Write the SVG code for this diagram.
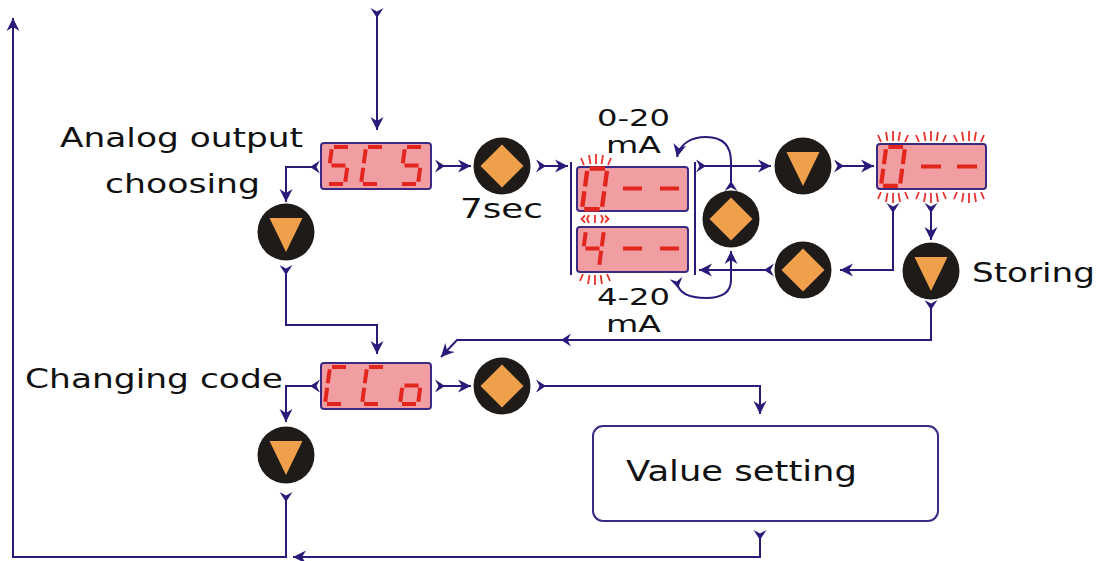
<svg xmlns="http://www.w3.org/2000/svg" xmlns:xlink="http://www.w3.org/1999/xlink" width="1099" height="561" viewBox="0 0 1099 561">
<style>
.txt{font-family:"DejaVu Sans","Liberation Sans",sans-serif;font-size:27px;fill:#111;}
.sm{font-size:23px;}
.disp{fill:#f09ea1;stroke:#3b2a84;stroke-width:2;}
.seg{fill:none;stroke:#e2261d;stroke-width:4;stroke-linecap:butt;}
.ray{fill:none;stroke:#e8322a;stroke-width:1.8;}
.con{fill:none;stroke:#2c1a7a;stroke-width:2;}
.bar{fill:none;stroke:#2c1a7a;stroke-width:2;}
.box{fill:#fff;stroke:#3b2a84;stroke-width:2;}
</style>
<defs>
<marker id="head" markerUnits="userSpaceOnUse" markerWidth="16" markerHeight="16" viewBox="-14 -8 16 16" refX="0" refY="0" orient="auto">
<path d="M0,0 L-13,-6.5 L-9,0 L-13,6.5 Z" fill="#2c1a7a"/>
</marker>
<marker id="tail" markerUnits="userSpaceOnUse" markerWidth="16" markerHeight="16" viewBox="-8 -8 16 16" refX="0" refY="0" orient="auto">
<path d="M-5,-6.5 L5,0 L-5,6.5 L-1.5,0 Z" fill="#2c1a7a"/>
</marker>
<g id="dS"><path d="M7,0 H21 M4.7,2.2 L2.8,16.3 M4.5,18.5 H18.5 M20.2,20.7 L18.3,34.8 M2,37 H16"/></g>
<g id="dC"><path d="M7,0 H21 M4.7,2.2 L2.8,16.3 M2.2,20.7 L0.3,34.8 M2,37 H16"/></g>
<g id="d0"><path d="M7,0 H21 M22.7,2.2 L20.8,16.3 M20.2,20.7 L18.3,34.8 M2,37 H16 M2.2,20.7 L0.3,34.8 M4.7,2.2 L2.8,16.3"/></g>
<g id="d4"><path d="M4.7,2.2 L2.8,16.3 M4.5,18.5 H18.5 M22.7,2.2 L20.8,16.3 M20.2,20.7 L18.3,34.8"/></g>
<g id="do"><path d="M4.5,18.5 H18.5 M20.2,20.7 L18.3,34.8 M2,37 H16 M2.2,20.7 L0.3,34.8"/></g>
<g id="raysUp"><path d="M-12,0 L-15,-7 M-5.5,-1 L-7,-10 M0,-1 L0,-11 M5.5,-1 L7,-10 M12,0 L15,-7"/></g>
<g id="btnDiamond"><circle r="28.5" fill="#1f1b19"/><path d="M0,-21.5 L21.5,0 L0,21.5 L-21.5,0 Z" fill="#f0a04a"/></g>
<g id="btnDown"><circle r="28.5" fill="#1f1b19"/><path d="M-16.5,-14 L16.5,-14 L0,20 Z" fill="#f0a04a"/></g>
</defs>
<rect width="1099" height="561" fill="#fff"/>

<g id="connectors">
<path class="con" d="M377,13 V130" marker-start="url(#tail)" marker-end="url(#head)"/>
<path class="con" d="M286,497 V557 H13 V18" marker-start="url(#tail)" marker-end="url(#head)"/>
<path class="con" d="M315,167 H286 V202" marker-start="url(#tail)" marker-end="url(#head)"/>
<path class="con" d="M286,270 V325 H377 V354" marker-start="url(#tail)" marker-end="url(#head)"/>
<path class="con" d="M440,166 H471" marker-start="url(#tail)" marker-end="url(#head)"/>
<path class="con" d="M541,166 H568" marker-start="url(#tail)" marker-end="url(#head)"/>
<path class="con" d="M701,166 H771" marker-start="url(#tail)" marker-end="url(#head)"/>
<path class="con" d="M839,166 H874" marker-start="url(#tail)" marker-end="url(#head)"/>
<path class="con" d="M731,186 V162 C731,145 722,137 706,137 C692,137 680,143 677,157" marker-start="url(#tail)" marker-end="url(#head)"/>
<path class="con" d="M677,283 C679,293 690,298 706,298 C722,298 731,292 731,280 V251" marker-start="url(#tail)" marker-end="url(#head)"/>
<path class="con" d="M893,208 V270 H840" marker-start="url(#tail)" marker-end="url(#head)"/>
<path class="con" d="M931,208 V240" marker-start="url(#tail)" marker-end="url(#head)"/>
<path class="con" d="M769,270 H699" marker-start="url(#tail)" marker-end="url(#head)"/>
<path class="con" d="M931,305 V340 H566" marker-start="url(#tail)"/>
<path class="con" d="M566,340 H457 L441,357" marker-start="url(#tail)" marker-end="url(#head)"/>
<path class="con" d="M315,386 H286 V422" marker-start="url(#tail)" marker-end="url(#head)"/>
<path class="con" d="M440,386 H471" marker-start="url(#tail)" marker-end="url(#head)"/>
<path class="con" d="M541,386 H760 V414" marker-start="url(#tail)" marker-end="url(#head)"/>
<path class="con" d="M760,535 V557 H293" marker-start="url(#tail)" marker-end="url(#head)"/>
</g>

<g id="label-analog">
<text class="txt" x="60" y="147" textLength="243" lengthAdjust="spacingAndGlyphs">Analog output</text>
<text class="txt" x="105" y="193" textLength="155" lengthAdjust="spacingAndGlyphs">choosing</text>
</g>

<g id="disp-scs">
<rect class="disp" x="321" y="143" width="110" height="46" rx="3"/>
<g class="seg">
<use xlink:href="#dS" transform="translate(327,147)"/>
<use xlink:href="#dC" transform="translate(361,147)"/>
<use xlink:href="#dS" transform="translate(400,147)"/>
</g>
</g>

<g id="btn-enter1" transform="translate(502,166)"><use xlink:href="#btnDiamond"/></g>
<text id="label-7sec" class="txt" x="460" y="218" textLength="83" lengthAdjust="spacingAndGlyphs">7sec</text>

<g id="btn-down1" transform="translate(286,232)"><use xlink:href="#btnDown"/></g>

<g id="select-range">
<path class="bar" d="M571,162 V275 M695,162 V275"/>
<text class="txt sm" x="597" y="126" textLength="73" lengthAdjust="spacingAndGlyphs">0-20</text>
<text class="txt sm" x="606" y="153" textLength="55" lengthAdjust="spacingAndGlyphs">mA</text>
<rect class="disp" x="577" y="167" width="111" height="44" rx="3"/>
<g class="seg">
<use xlink:href="#d0" transform="translate(582,168.5) scale(1.1)"/>
<path d="M623,188.5 H642 M660,188.5 H679"/>
</g>
<rect class="disp" x="577" y="227" width="111" height="45" rx="3"/>
<g class="seg">
<use xlink:href="#d4" transform="translate(581,230)"/>
<path d="M623,248.5 H642 M660,248.5 H679"/>
</g>
<g class="ray">
<use xlink:href="#raysUp" transform="translate(596,165)"/>
<use xlink:href="#raysUp" transform="translate(595,274) scale(1,-1)"/>
<path d="M585,215.5 L581.5,219 L585,222.5 M589,215 L587,219 L589,223 M595,215 V223 M601,215 L603,219 L601,223 M605,215.5 L608.5,219 L605,222.5"/>
</g>
<text class="txt sm" x="597" y="305" textLength="73" lengthAdjust="spacingAndGlyphs">4-20</text>
<text class="txt sm" x="606" y="332" textLength="55" lengthAdjust="spacingAndGlyphs">mA</text>
</g>

<g id="btn-enter2" transform="translate(731,219)"><use xlink:href="#btnDiamond"/></g>
<g id="btn-down2" transform="translate(803,166)"><use xlink:href="#btnDown"/></g>

<g id="disp-flash">
<rect class="disp" x="877" y="144" width="109" height="45" rx="3"/>
<g class="seg">
<use xlink:href="#d0" transform="translate(881,147) scale(1.05)"/>
<path d="M921,166.5 H941 M957,166.5 H977"/>
</g>
<g class="ray">
<use xlink:href="#raysUp" transform="translate(893,142)"/>
<use xlink:href="#raysUp" transform="translate(931,142)"/>
<use xlink:href="#raysUp" transform="translate(969,142)"/>
<use xlink:href="#raysUp" transform="translate(893,192) scale(1,-1)"/>
<use xlink:href="#raysUp" transform="translate(931,192) scale(1,-1)"/>
<use xlink:href="#raysUp" transform="translate(969,192) scale(1,-1)"/>
</g>
</g>

<g id="btn-enter3" transform="translate(803,270)"><use xlink:href="#btnDiamond"/></g>
<g id="btn-storing" transform="translate(931,271)"><use xlink:href="#btnDown"/></g>
<text id="label-storing" class="txt" x="972" y="282" textLength="123" lengthAdjust="spacingAndGlyphs">Storing</text>

<text id="label-changing" class="txt" x="25" y="388" textLength="258" lengthAdjust="spacingAndGlyphs">Changing code</text>

<g id="disp-cco">
<rect class="disp" x="321" y="363" width="110" height="46" rx="3"/>
<g class="seg">
<use xlink:href="#dC" transform="translate(325,367)"/>
<use xlink:href="#dC" transform="translate(362,367)"/>
<use xlink:href="#do" transform="translate(400,367)"/>
</g>
</g>

<g id="btn-enter4" transform="translate(502,386)"><use xlink:href="#btnDiamond"/></g>
<g id="btn-down3" transform="translate(286,455)"><use xlink:href="#btnDown"/></g>

<g id="value-setting">
<rect class="box" x="593" y="426" width="345" height="95" rx="10"/>
<text class="txt" x="626" y="481" style="font-size:29px" textLength="231" lengthAdjust="spacingAndGlyphs">Value setting</text>
</g>
</svg>
